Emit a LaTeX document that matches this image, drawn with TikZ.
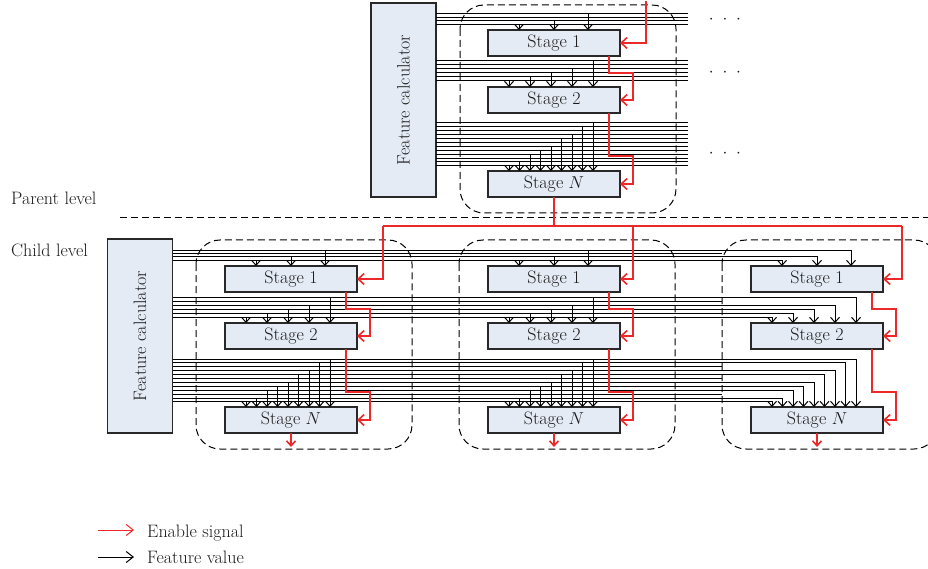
\documentclass[tikz,border=0pt]{standalone}
\usepackage{graphicx}
\usetikzlibrary{arrows.meta,calc}
\definecolor{boxfill}{RGB}{229,235,245}
\definecolor{boxline}{RGB}{40,40,40}
\definecolor{enred}{RGB}{236,40,40}
\newcommand\lblfont{\fontsize{18}{21}\selectfont}
% one column of stages: name prefix, left edge x, vertical offset
\newcommand\stagecol[3]{%
  \node[stagebox] (#1a) at (#2+66,43+#3) {Stage 1};
  \node[stagebox] (#1b) at (#2+66,100+#3) {Stage 2};
  \node[stagebox] (#1n) at (#2+66,184+#3) {Stage $N$};
  \coordinate (#1o1) at ($(#1a.south east)+(-11,0)$);
  \coordinate (#1j1) at ($(#1a.south east)+(13,17)$);
  \coordinate (#1o2) at ($(#1b.south east)+(-11,0)$);
  \coordinate (#1j2) at ($(#1b.south east)+(13,43)$);
}
% enable chain inside one column of stages
\newcommand\enablechain[1]{%
  \draw[enarrow] (#1o1) |- (#1j1) |- (#1b.east);
  \draw[enarrow] (#1o2) |- (#1j2) |- (#1n.east);
}
\begin{document}
\begin{tikzpicture}[x=1pt,y=-1pt,
  stagebox/.style={draw=boxline,line width=1.2pt,fill=boxfill,minimum width=132pt,
    minimum height=26pt,inner sep=0pt,outer sep=0pt,font=\lblfont,text=black!90},
  fcbox/.style={draw=boxline,line width=1.2pt,fill=boxfill,minimum width=65pt,
    minimum height=194pt,inner sep=0pt,outer sep=0pt,font=\lblfont,text=black!90},
  groupbox/.style={draw=black,line width=1pt,dash pattern=on 7pt off 4pt,rounded corners=24pt},
  bus/.style={draw=black,line width=1pt},
  feat/.style={bus,-{Straight Barb[length=5pt,width=9pt]}},
  enable/.style={draw=enred,line width=1.6pt},
  enarrow/.style={enable,-{Straight Barb[length=6pt,width=11pt]}},
  lbl/.style={font=\lblfont,text=black!90,inner sep=0pt},
]
\useasboundingbox (0,0) rectangle (928,569);

% ---------- parent level ----------
\node[fcbox] (fcP) at (403.5,100) {\rotatebox{90}{Feature calculator}};
\draw[groupbox] (460,5) rectangle (676,213);
\stagecol{sP}{488}{0}

% feature buses of the parent level
\foreach \ly in {14,17.4,20.8,24.2, 61,65,69,73,77,81}
  \draw[bus] (fcP.east |- 0,\ly) -- (688,\ly);
\foreach \i in {0,...,11}{
  \pgfmathsetmacro\ly{123+3.9*\i}
  \draw[bus] (fcP.east |- 0,\ly) -- (688,\ly);
}
\foreach \dx/\ly/\ey in {100/14/30, 66/20.8/30, 31/24.2/30,
    105/61/87, 84/69/87, 63/73/87, 42/77/87, 21/81/87,
    105/123/171, 94.5/126.9/171, 84/134.7/171, 73.5/138.6/171, 63/146.4/171,
    52.5/150.3/171, 42/154.2/171, 31.5/162/171, 21/165.9/171}
  \draw[feat] (488+\dx,\ly) -- (488+\dx,\ey);

\node[lbl] (dots1) at (725,20) {$\cdot\hspace{5pt}\cdot\hspace{5pt}\cdot$};
\node[lbl] (dots2) at (725,73) {$\cdot\hspace{5pt}\cdot\hspace{5pt}\cdot$};
\node[lbl] (dots3) at (725,154) {$\cdot\hspace{5pt}\cdot\hspace{5pt}\cdot$};

% level separator
\draw[black,line width=1pt,dash pattern=on 7pt off 4pt] (120,218) -- (928,218);
\node[lbl,anchor=base west] (plev) at (11,205) {Parent level};
\node[lbl,anchor=base west] (clev) at (11,257) {Child level};

% ---------- child level ----------
\node[fcbox] (fcC) at (140,336) {\rotatebox{90}{Feature calculator}};
\begin{scope}
\clip (0,0) rectangle (928,569);
\foreach \L in {225,488,751}
  \draw[groupbox] (\L-29,240) rectangle (\L+187,449);
\end{scope}
\stagecol{sA}{225}{236}
\stagecol{sB}{488}{236}
\stagecol{sC}{751}{236}

% lines not tapped in the last column
\foreach \ly in {17.4,65,130.8,142.5,158.1}{
  \pgfmathsetmacro\yy{\ly+236}
  \draw[bus] (fcC.east |- 0,\yy) -- (722,\yy);
}
% tapped lines: branch in the first two columns, end in the last one
\foreach \dx/\ly/\ey in {100/14/30, 66/20.8/30, 31/24.2/30,
    105/61/87, 84/69/87, 63/73/87, 42/77/87, 21/81/87,
    105/123/171, 94.5/126.9/171, 84/134.7/171, 73.5/138.6/171, 63/146.4/171,
    52.5/150.3/171, 42/154.2/171, 31.5/162/171, 21/165.9/171}{
  \pgfmathsetmacro\yy{\ly+236}
  \pgfmathsetmacro\ee{\ey+236}
  \draw[feat] (fcC.east |- 0,\yy) -| (751+\dx,\ee);
  \draw[feat] (225+\dx,\yy) -- (225+\dx,\ee);
  \draw[feat] (488+\dx,\yy) -- (488+\dx,\ee);
}

% ---------- enable signals (drawn over the buses) ----------
\coordinate (enIn) at (646,1);
\draw[enarrow] (enIn) |- (sPa.east);
\enablechain{sP}
\enablechain{sA}
\enablechain{sB}
\enablechain{sC}

\coordinate (eL) at (383,226);
\coordinate (eM) at (633,226);
\coordinate (eR) at (902,226);
\draw[enable] (sPn.south) -- (sPn.south |- eL);
\draw[enable] (eL) -- (eR);
\draw[enarrow] (eL) |- (sAa.east);
\draw[enarrow] (eM) |- (sBa.east);
\draw[enarrow] (eR) |- (sCa.east);
\foreach \c in {sA,sB,sC}
  \draw[enable,-{Straight Barb[length=5pt,width=9pt]}] (\c n.south) -- ++(0,14);

% ---------- legend ----------
\coordinate (l1a) at (98,530); \coordinate (l1b) at (134,530);
\coordinate (l2a) at (98,557); \coordinate (l2b) at (134,557);
\draw[enable,line width=1pt,-{Straight Barb[length=7pt,width=11pt]}] (l1a) -- (l1b);
\draw[bus,-{Straight Barb[length=7pt,width=11pt]}] (l2a) -- (l2b);
\node[lbl,anchor=base west] (leg1) at (147,537) {Enable signal};
\node[lbl,anchor=base west] (leg2) at (147,563) {Feature value};
\end{tikzpicture}
\end{document}
